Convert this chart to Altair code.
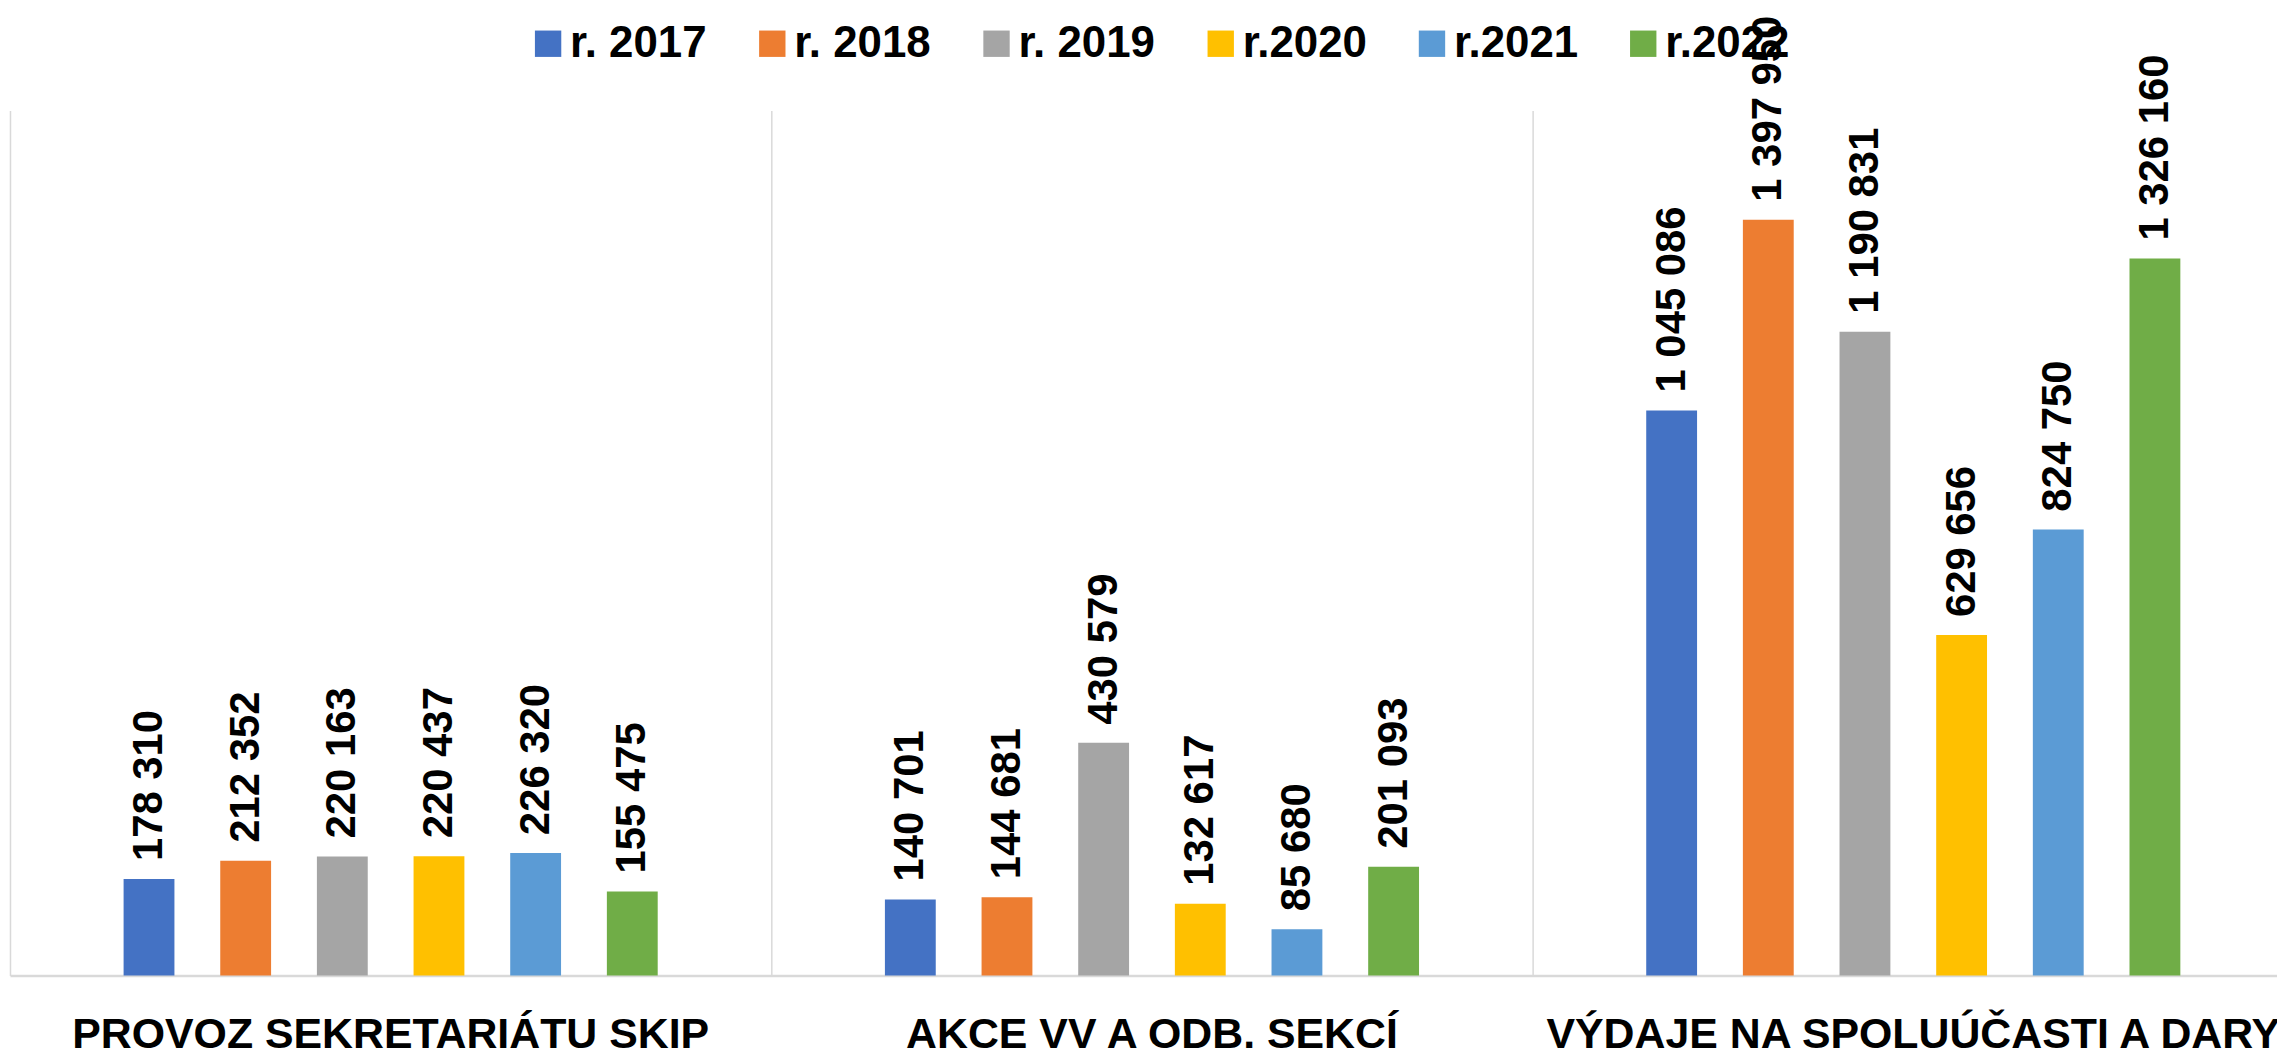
import altair as alt
import pandas as pd

categories = ["PROVOZ SEKRETARIÁTU SKIP", "AKCE VV A ODB. SEKCÍ", "VÝDAJE NA SPOLUÚČASTI A DARY"]
years = ["r. 2017", "r. 2018", "r. 2019", "r.2020", "r.2021", "r.2022"]
colors = ["#4472C4", "#ED7D31", "#A5A5A5", "#FFC000", "#5B9BD5", "#70AD47"]

v2017 = [178310, 140701, 1045086]
v2018 = [212352, 144681, 1397950]
v2019 = [220163, 430579, 1190831]
v2020 = [220437, 132617, 629656]
v2021 = [226320, 85680, 824750]
v2022 = [155475, 201093, 1326160]

series = [v2017, v2018, v2019, v2020, v2021, v2022]
rows = []
for yr, vals in zip(years, series):
    for cat, v in zip(categories, vals):
        rows.append({"category": cat, "year": yr, "value": v,
                     "label": f"{v:,}".replace(",", " ")})
df = pd.DataFrame(rows)

FONT = "Liberation Sans"

base = alt.Chart(df).encode(
    x=alt.X(
        "category:N",
        sort=categories,
        scale=alt.Scale(rangeMin=0, rangeMax=2292, paddingInner=0, paddingOuter=0),
        axis=alt.Axis(
            title=None, labelAngle=0, labelFont=FONT, labelFontSize=43,
            labelFontWeight="bold", labelColor="#000000", labelPadding=72,
            labelBaseline="alphabetic", labelAlign="center",
            ticks=False, tickSize=0, domainColor="#d9d9d9", domainWidth=2.5,
            grid=True, gridColor="#d9d9d9", gridWidth=1.5, bandPosition=0,
            labelLimit=0,
        ),
    ),
    xOffset=alt.XOffset("year:N", sort=years,
                        scale=alt.Scale(range=[114, 650], paddingInner=0.474, paddingOuter=0)),
    y=alt.Y("value:Q", scale=alt.Scale(domain=[0, 1600000], nice=False), axis=None),
)

bars = base.mark_bar().encode(
    color=alt.Color(
        "year:N", sort=years,
        scale=alt.Scale(domain=years, range=colors),
        legend=alt.Legend(
            orient="none", legendX=518, legendY=-89, direction="horizontal",
            title=None, symbolType="square", symbolSize=700, symbolStrokeWidth=0,
            labelFont=FONT, labelFontSize=44, labelFontWeight="bold",
            labelColor="#000000", columnPadding=43, labelOffset=0, padding=0,
            labelLimit=0,
        ),
    )
)

labels = base.mark_text(
    angle=270, align="left", baseline="middle", dx=18,
    font=FONT, fontSize=42, fontWeight="bold", color="#000000",
).encode(text="label:N")

chart = alt.layer(bars, labels).properties(
    width=2275, height=868,
    autosize=alt.AutoSizeParams(type="none"),
    padding={"left": 2, "top": 101, "right": 0, "bottom": 84},
).configure_view(stroke=None)

chart.save("out.html", embed_options={"renderer": "svg", "actions": False})
